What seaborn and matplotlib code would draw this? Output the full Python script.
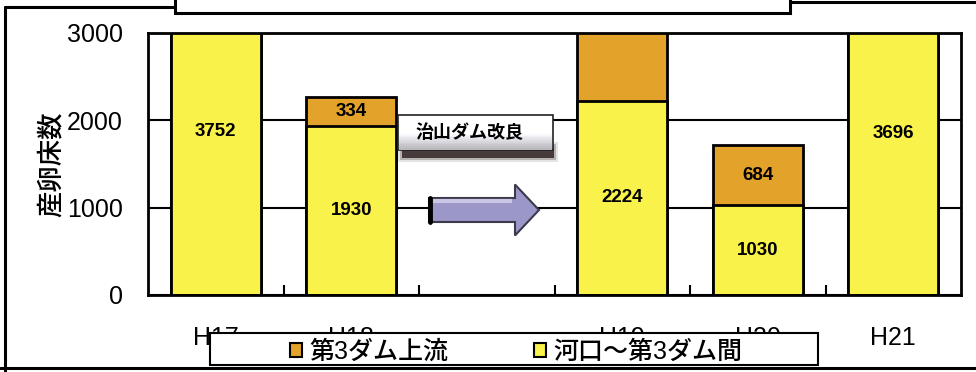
import matplotlib
matplotlib.use("Agg")
import matplotlib.pyplot as plt
import matplotlib.transforms as mtransforms
from matplotlib.patches import Rectangle, FancyArrow, Patch
from matplotlib.lines import Line2D
import seaborn as sns
import pandas as pd
import numpy as np

# spawning-bed counts by survey year
years = ["H17", "H18", "H19", "H20", "H21"]
lower_counts = [3752, 1930, 2224, 1030, 3696]   # 河口～第3ダム間
upper_counts = [0, 334, 1826, 684, 0]           # 第3ダム上流
slot_order = ["H17", "H18", "", "H19", "H20", "H21"]   # empty slot holds the arrow
y_ticks = [0, 1000, 2000, 3000]
series_names = ["第3ダム上流", "河口～第3ダム間"]
note_text = "治山ダム改良"
y_title = "産卵床数"

YELLOW = "#f8f24a"
ORANGE = "#e3a22a"

sns.set_theme(style="white")
plt.rcParams["font.family"] = ["Liberation Sans", "Noto Sans CJK JP"]

W, H = 976, 372
fig = plt.figure(figsize=(W / 100, H / 100), dpi=100)
fig.patch.set_facecolor("white")
# pixel coordinates, origin at top-left
px = mtransforms.Affine2D().scale(1 / W, -1 / H).translate(0, 1) + fig.transFigure

ax = fig.add_axes([148 / W, 1 - 295 / H, 813 / W, 262 / H])

df = pd.DataFrame({"year": years, "lower": lower_counts, "upper": upper_counts})
df["total"] = df["lower"] + df["upper"]

common = dict(data=df, x="year", order=slot_order, width=0.665,
              edgecolor="black", linewidth=2, saturation=1,
              errorbar=None, ax=ax)
sns.barplot(y="total", color=ORANGE, **common)
sns.barplot(y="lower", color=YELLOW, **common)

# value labels in the middle of each segment
pos = {name: i for i, name in enumerate(slot_order)}
ymax = y_ticks[-1]
for yr, lo, up in zip(years, lower_counts, upper_counts):
    x = pos[yr]
    for base, val in ((0, lo), (lo, up)):
        if val > 0 and base + val / 2 < ymax:
            ax.text(x, base + val / 2, f"{val}", ha="center", va="center",
                    fontsize=13.5, fontweight="bold", color="black", zorder=5)

ax.set_ylim(0, ymax)
ax.set_yticks(y_ticks)
ax.yaxis.grid(True, color="black", linewidth=1.5)
ax.xaxis.grid(False)
ax.set_axisbelow(True)
for sp in ax.spines.values():
    sp.set_visible(True)
    sp.set_color("black")
    sp.set_linewidth(2)
ax.tick_params(axis="y", length=0, pad=18, labelsize=18, labelcolor="black")
ax.tick_params(axis="x", which="major", length=0, pad=22, labelsize=18, labelcolor="black")
ax.set_xticks(np.arange(0.5, len(slot_order) - 1, 1), minor=True)
ax.tick_params(axis="x", which="minor", bottom=True, direction="in",
               length=7, width=1.5, color="black")
ax.set_xlabel("")
ax.set_ylabel(y_title, fontsize=19, color="black", va="center", fontweight="medium")
ax.yaxis.set_label_coords((51 - 148) / 813, 0.5)

# outer frame pieces
for (x0, y0), (x1, y1) in [((5, 7), (5, 372)), ((5, 7), (175, 7)),
                           ((790, 2), (976, 2)), ((0, 368), (976, 368))]:
    fig.add_artist(Line2D([x0, x1], [y0, y1], transform=px, color="black", lw=2.2))
fig.add_artist(Rectangle((175, -10), 615, 23, transform=px, facecolor="white",
                         edgecolor="black", lw=2.2))

# note box with drop shadow
for grow, alpha in ((4, 0.12), (2, 0.25), (0, 0.8)):
    fig.add_artist(Rectangle((402 - grow, 146 - grow), 152 + 2 * grow, 12 + 2 * grow,
                             transform=px, facecolor="#2a1c1c", edgecolor="none",
                             alpha=alpha, zorder=3))
fig.add_artist(Rectangle((398, 115), 155, 35, transform=px, facecolor="white",
                         edgecolor="#222222", lw=1.2, zorder=3.1))
shades = np.linspace(1.0, 0.72, 10)
for i, s in enumerate(shades):
    fig.add_artist(Rectangle((399, 132 + i * 1.75), 153, 1.8, transform=px,
                             facecolor=(s, s, min(1.0, s + 0.02)),
                             edgecolor="none", zorder=3.2))
fig.text(469, 133, note_text, transform=px, ha="center", va="center",
         fontsize=13, fontweight="bold", color="black", zorder=3.5)

# arrow between the two periods
fig.add_artist(FancyArrow(429, 210, 110, 0, width=24, head_width=51, head_length=24,
                          length_includes_head=True, transform=px,
                          facecolor="#9b97c8", edgecolor="#3a3a4a", lw=1.5, zorder=3))
fig.add_artist(Line2D([430, 512], [201, 201], transform=px, color="#c9c6e6",
                      lw=3, zorder=3.1, solid_capstyle="butt"))
fig.add_artist(Line2D([430, 430], [198, 222], transform=px, color="black",
                      lw=3.5, zorder=3.2))

# legend box over the category labels
fig.add_artist(Rectangle((210, 333), 608, 32, transform=px, facecolor="white",
                         edgecolor="black", lw=1.5, zorder=4))
handles = [Patch(facecolor=ORANGE, edgecolor="black", lw=1.5, label=series_names[0]),
           Patch(facecolor=YELLOW, edgecolor="black", lw=1.5, label=series_names[1])]
leg = fig.legend(handles=handles, loc="center", bbox_to_anchor=(516, 352),
                 bbox_transform=px, ncol=2, frameon=False,
                 prop={"size": 18, "weight": "medium"},
                 handlelength=0.5, handleheight=0.5, handletextpad=0.3,
                 columnspacing=3.4, borderpad=0)
leg.set_zorder(5)
for t in leg.get_texts():
    t.set_color("black")

fig.savefig("out.png", dpi=100, facecolor="white")
